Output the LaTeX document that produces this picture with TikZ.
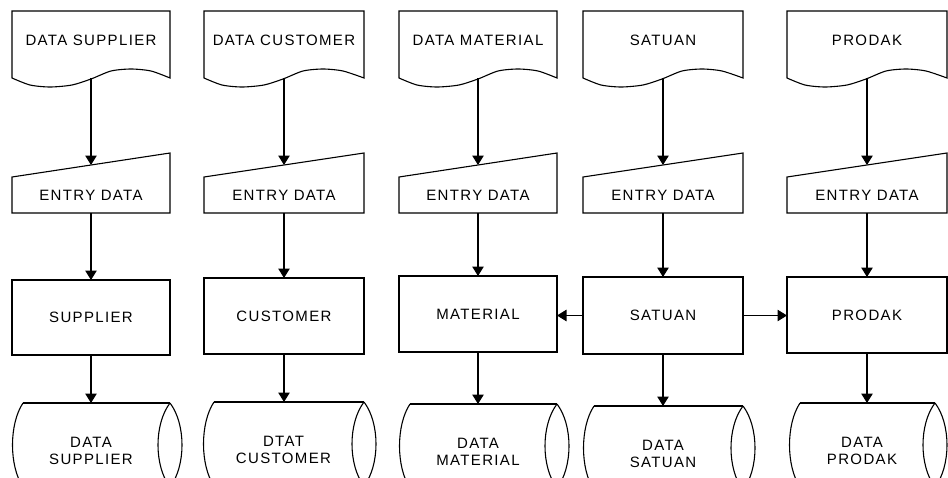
\documentclass[tikz,border=0pt]{standalone}
\usepackage{fontspec}
\setmainfont{Liberation Sans}[LetterSpace=9]
\usetikzlibrary{arrows.meta,calc}

\tikzset{
  every node/.style={font=\fontsize{15}{17}\selectfont, inner sep=0pt, outer sep=0pt, align=center},
  outline/.style={draw=black, line width=1.1pt, line join=miter},
  arr/.style={draw=black, line width=1.1pt, -{Triangle[length=9.5pt,width=11.5pt]}},
}

% document symbol: name, left x, right x, text
\newcommand\docshape[4]{%
  \node[minimum width={#3-#2}, minimum height=67] (#1) at ({(#2+#3)/2},44.5) {};
  \node (#1t) at ({(#2+#3)/2},40) {#4};
  \draw[outline] plot[smooth, tension=0.45] coordinates {
      (#2,78) ({#2+18},85) ({#2+38},87) ({#2+60},85) ({#2+79},79)
      ({#2+99},71) ({#2+119},69) ({#2+139},71) (#3,78)}
    -- (#3,11) -- (#2,11) -- cycle;
}
% manual input symbol: name, left x, right x
\newcommand\entryshape[3]{%
  \node[minimum width={#3-#2}, minimum height=36] (#1) at ({(#2+#3)/2},195) {ENTRY DATA};
  \draw[outline] (#1.south west) -- (#1.north west)
    -- ($(#1.north east)+(0,-24)$) -- (#1.south east) -- cycle;
}
% process box: name, left x, right x, top y, bottom y, text
\newcommand\procbox[6]{%
  \node[outline, minimum width={#3-#2}, minimum height={#5-#4}]
    (#1) at ({(#2+#3)/2},{(#4+#5)/2}) {#6};
}
% stored data symbol: name, left x, right x, top y, text
\newcommand\storeshape[5]{%
  \node[minimum width={#3-#2}, minimum height=84] (#1) at ({(#2+#3)/2},{#4+42}) {};
  \node (#1t) at ({(#2+#3)/2},{#4+48}) {#5};
  \draw[outline] ($(#1.north west)+(11,0)$) -- (#1.north east);
  \draw[outline] ($(#1.south west)+(11,0)$) -- (#1.south east);
  \draw[outline] ($(#1.north west)+(11,0)$)
    .. controls ($(#1.north west)+(-3,21)$) and ($(#1.south west)+(-3,-21)$)
    .. ($(#1.south west)+(11,0)$);
  \draw[outline] (#1.north east)
    .. controls ($(#1.north east)+(-16,21)$) and ($(#1.south east)+(-16,-21)$)
    .. (#1.south east)
    .. controls ($(#1.south east)+(16,-21)$) and ($(#1.north east)+(16,21)$)
    .. (#1.north east);
}

\begin{document}
\begin{tikzpicture}[x=1pt, y=-1pt]
  \useasboundingbox (0,0) rectangle (948,477);
  \clip (0,0) rectangle (948,477);

  % supplier column
  \docshape{d1}{12}{170}{DATA SUPPLIER}
  \entryshape{e1}{12}{170}
  \procbox{p1}{12}{170}{280}{355}{SUPPLIER}
  \storeshape{s1}{12}{170}{403}{DATA\\SUPPLIER}

  % customer column
  \docshape{d2}{204}{364}{DATA CUSTOMER}
  \entryshape{e2}{204}{364}
  \procbox{p2}{204}{364}{278}{354}{CUSTOMER}
  \storeshape{s2}{203}{364}{402}{DTAT\\CUSTOMER}

  % material column
  \docshape{d3}{399}{557}{DATA MATERIAL}
  \entryshape{e3}{399}{557}
  \procbox{p3}{399}{557}{276}{352}{MATERIAL}
  \storeshape{s3}{399}{557}{404}{DATA\\MATERIAL}

  % satuan column
  \docshape{d4}{583}{743}{SATUAN}
  \entryshape{e4}{583}{743}
  \procbox{p4}{583}{743}{277}{354}{SATUAN}
  \storeshape{s4}{583}{743}{406}{DATA\\SATUAN}

  % prodak column
  \docshape{d5}{787}{947}{PRODAK}
  \entryshape{e5}{787}{947}
  \procbox{p5}{787}{947}{277}{353}{PRODAK}
  \storeshape{s5}{789}{935}{403}{DATA\\PRODAK}

  % vertical flow in each column
  \foreach \i in {1,...,5} {
    \draw[arr] (d\i.south) -- ($(e\i.north)+(0,-12)$);
    \draw[arr] (e\i.south) -- (p\i.north);
    \draw[arr] (p\i.south) -- (p\i.south |- s\i.north);
  }

  % satuan feeds material and prodak
  \draw[arr] (p4.west) -- (p4.west -| p3.east);
  \draw[arr] (p4.east) -- (p4.east -| p5.west);
\end{tikzpicture}
\end{document}
